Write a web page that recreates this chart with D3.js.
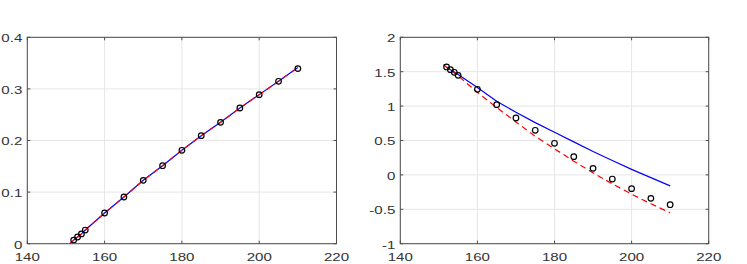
<!DOCTYPE html>
<html><head><meta charset="utf-8">
<script src="https://cdn.jsdelivr.net/npm/d3@7"></script>
<style>html,body{margin:0;padding:0;background:#fff;}svg{display:block;}</style>
</head><body>
<svg id="c" width="747" height="264"></svg>
<script>
// ---- data ----
const xTicks = [140, 160, 180, 200, 220];
const leftYTicks = [0, 0.1, 0.2, 0.3, 0.4];
const leftYLabels = ["0", "0.1", "0.2", "0.3", "0.4"];
const rightYTicks = [-1, -0.5, 0, 0.5, 1, 1.5, 2];
const rightYLabels = ["-1", "-0.5", "0", "0.5", "1", "1.5", "2"];

const pointX = [152, 153, 154, 155, 160, 165, 170, 175, 180, 185, 190, 195, 200, 205, 210];
const leftPoints = [0.007, 0.013, 0.019, 0.0265, 0.0595, 0.0905, 0.1228, 0.1512, 0.181, 0.2094, 0.2352, 0.263, 0.2889, 0.3147, 0.3393];
const rightPoints = [1.569, 1.530, 1.491, 1.447, 1.244, 1.021, 0.827, 0.648, 0.459, 0.265, 0.095, -0.060, -0.200, -0.341, -0.433];

const leftLineX = [151, 152, 153, 154, 155, 160, 165, 170, 175, 180, 185, 190, 195, 200, 205, 210];
const leftBlue = [0, 0.007, 0.013, 0.019, 0.0265, 0.0595, 0.0905, 0.1228, 0.1512, 0.181, 0.2094, 0.2352, 0.263, 0.2889, 0.3147, 0.3413];
const leftRed  = [0, 0.007, 0.013, 0.019, 0.0265, 0.0595, 0.0905, 0.1228, 0.1512, 0.181, 0.2094, 0.2352, 0.263, 0.2889, 0.3147, 0.3413];

const rightBlueX = [152, 155, 160, 165, 170, 175, 180, 185, 190, 195, 200, 205, 210];
const rightBlue = [1.565, 1.46, 1.27, 1.07, 0.91, 0.76, 0.62, 0.48, 0.34, 0.21, 0.08, -0.04, -0.16];
const rightRedX = [151.2, 155, 160, 165, 170, 175, 180, 185, 190, 195, 200, 205, 210];
const rightRed = [1.60, 1.44, 1.20, 0.98, 0.77, 0.56, 0.38, 0.20, 0.03, -0.13, -0.28, -0.42, -0.55];

// ---- drawing ----
const svg = d3.select("#c");
const FONT = "'Liberation Sans', Arial, Helvetica, sans-serif";
const SX = 1.3;

function panel(x0, x1, y0, y1, yDomain, yTicks, yLabels, points, blueX, blue, redX, red) {
  const x = d3.scaleLinear().domain([140, 220]).range([x0, x1]);
  const y = d3.scaleLinear().domain(yDomain).range([y1, y0]);
  const g = svg.append("g");
  // grid
  g.selectAll(".gx").data(xTicks).join("line")
    .attr("x1", d => x(d)).attr("x2", d => x(d)).attr("y1", y0).attr("y2", y1)
    .attr("stroke", "#e6e6e6").attr("stroke-width", 1);
  g.selectAll(".gy").data(yTicks).join("line")
    .attr("class", "gy")
    .attr("x1", x0).attr("x2", x1).attr("y1", d => y(d)).attr("y2", d => y(d))
    .attr("stroke", "#e6e6e6").attr("stroke-width", 1);
  // lines
  const lb = d3.line().x(d => x(d[0])).y(d => y(d[1]));
  g.append("path").datum(blueX.map((v, i) => [v, blue[i]]))
    .attr("d", lb).attr("fill", "none").attr("stroke", "#0000ff").attr("stroke-width", 1.2);
  g.append("path").datum(redX.map((v, i) => [v, red[i]]))
    .attr("d", lb).attr("fill", "none").attr("stroke", "#ff0000").attr("stroke-width", 1.2)
    .attr("stroke-dasharray", "6,4");
  // points
  g.selectAll(".pt").data(pointX.map((v, i) => [v, points[i]])).join("circle")
    .attr("cx", d => x(d[0])).attr("cy", d => y(d[1])).attr("r", 2.8)
    .attr("fill", "none").attr("stroke", "#000").attr("stroke-width", 1.2);
  // box
  g.append("rect").attr("x", x0).attr("y", y0).attr("width", x1 - x0).attr("height", y1 - y0)
    .attr("fill", "none").attr("stroke", "#4d4d4d").attr("stroke-width", 1);
  // ticks (inward, all sides)
  const tl = 3;
  xTicks.forEach(t => {
    g.append("line").attr("x1", x(t)).attr("x2", x(t)).attr("y1", y1).attr("y2", y1 - tl).attr("stroke", "#4d4d4d");
    g.append("line").attr("x1", x(t)).attr("x2", x(t)).attr("y1", y0).attr("y2", y0 + tl).attr("stroke", "#4d4d4d");
  });
  yTicks.forEach(t => {
    g.append("line").attr("x1", x0).attr("x2", x0 + tl).attr("y1", y(t)).attr("y2", y(t)).attr("stroke", "#4d4d4d");
    g.append("line").attr("x1", x1).attr("x2", x1 - tl).attr("y1", y(t)).attr("y2", y(t)).attr("stroke", "#4d4d4d");
  });
  // labels
  xTicks.forEach(t => {
    g.append("text").attr("transform", `translate(${x(t)},${261}) scale(${SX},1)`)
      .attr("text-anchor", "middle").attr("font-family", FONT).attr("font-size", 11.6)
      .attr("fill", "#333").text(String(t));
  });
  yTicks.forEach((t, i) => {
    g.append("text").attr("transform", `translate(${x0 - 5},${y(t) + 4.8}) scale(${SX},1)`)
      .attr("text-anchor", "end").attr("font-family", FONT).attr("font-size", 11.6)
      .attr("fill", "#333").text(yLabels[i]);
  });
}

panel(27.3, 336.5, 37.3, 243.7, [0, 0.4], leftYTicks, leftYLabels, leftPoints, leftLineX, leftBlue, leftLineX, leftRed);
panel(400.3, 708.7, 37.3, 243.7, [-1, 2], rightYTicks, rightYLabels, rightPoints, rightBlueX, rightBlue, rightRedX, rightRed);
</script>
</body></html>
